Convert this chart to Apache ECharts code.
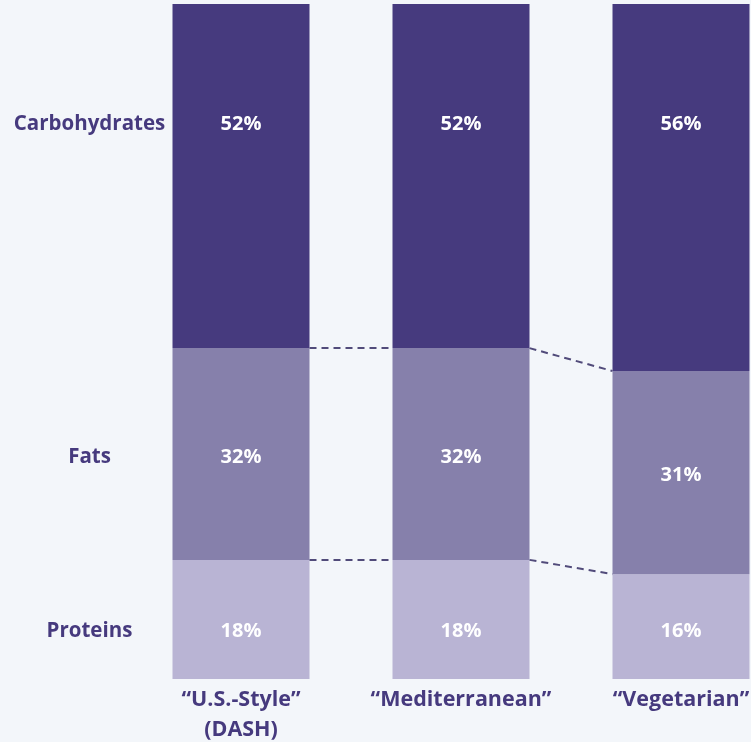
<!DOCTYPE html>
<html><head><meta charset="utf-8">
<script src="https://cdn.jsdelivr.net/npm/echarts@6/dist/echarts.min.js"></script>
<style>html,body{margin:0;padding:0;background:#f3f6fa;}#c{width:751px;height:742px;}</style>
</head><body><div id="c"></div>
<script>
const categories = ['“U.S.-Style”\n(DASH)', '“Mediterranean”', '“Vegetarian”'];
const nutrients = ['Proteins', 'Fats', 'Carbohydrates'];
const proteins = [18, 18, 16];
const fats = [32, 32, 31];
const carbs = [52, 52, 56];

const raw = [proteins, fats, carbs];
const totals = categories.map((c, i) => proteins[i] + fats[i] + carbs[i]);
const share = arr => arr.map((v, i) => v / totals[i] * 100);
const shares = raw.map(share);

const colors = ['#b9b4d4', '#8680ab', '#463a7e'];
const txt = '#463a7e';
const BAR_W = 137;
const FONT = '"Open Sans", Lato, sans-serif';

const labelPos = [
  { position: 'insideBottom', distance: 36, offset: [0, 0] },
  { position: 'inside', distance: 0, offset: [0, 3] },
  { position: 'insideTop', distance: 108, offset: [0, 0] }
];

const barSeries = nutrients.map((name, k) => ({
  name: name,
  type: 'bar',
  stack: 'total',
  barWidth: BAR_W,
  data: shares[k],
  itemStyle: { color: colors[k] },
  emphasis: { disabled: true },
  label: {
    show: true,
    position: labelPos[k].position,
    distance: labelPos[k].distance,
    offset: labelPos[k].offset,
    formatter: p => p.dataIndex === 0
      ? '{n|' + name + '}{v|' + raw[k][p.dataIndex] + '%}{p|}'
      : '{v|' + raw[k][p.dataIndex] + '%}',
    rich: {
      n: { width: 160, align: 'right', color: txt, fontFamily: FONT, fontWeight: 'bold', fontSize: 20.5, lineHeight: 24 },
      v: { width: 143, align: 'center', color: '#ffffff', fontFamily: FONT, fontWeight: 'bold', fontSize: 20, lineHeight: 24 },
      p: { width: 160 }
    }
  }
}));

// boundaries between segments (cumulative shares)
const protTop = shares[0];
const fatTop = shares[0].map((v, i) => v + shares[1][i]);
const connData = [];
for (let i = 0; i < categories.length - 1; i++) {
  connData.push([i, protTop[i], protTop[i + 1]]);
  connData.push([i, fatTop[i], fatTop[i + 1]]);
}

const connector = {
  type: 'custom',
  data: connData,
  encode: { x: 0, y: 1 },
  silent: true,
  z: 5,
  renderItem: (params, api) => {
    const i = api.value(0);
    const a = api.coord([i, api.value(1)]);
    const b = api.coord([i + 1, api.value(2)]);
    return {
      type: 'line',
      shape: { x1: a[0] + BAR_W / 2, y1: a[1], x2: b[0] - BAR_W / 2, y2: b[1] },
      style: { stroke: '#514b7a', lineWidth: 2, lineDash: [7, 5] }
    };
  }
};

const chart = echarts.init(document.getElementById('c'));
chart.setOption({
  backgroundColor: '#f3f6fa',
  animation: false,
  grid: { left: 131, width: 660, top: 4, bottom: 63, outerBoundsMode: 'none', containLabel: false },
  xAxis: {
    type: 'category',
    data: categories,
    axisLine: { show: false },
    axisTick: { show: false },
    axisLabel: { color: txt, fontFamily: FONT, fontWeight: 'bold', fontSize: 21.5, lineHeight: 30, margin: 6, interval: 0, hideOverlap: false }
  },
  yAxis: { type: 'value', min: 0, max: 100, show: false },
  series: barSeries.concat([connector])
});
</script></body></html>
